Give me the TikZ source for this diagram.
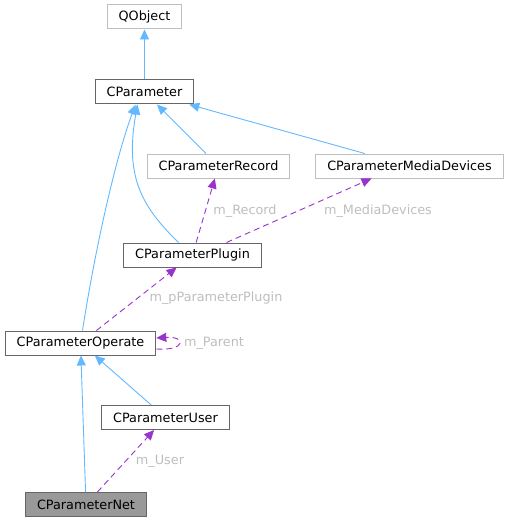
\documentclass[tikz,border=0pt]{standalone}
\usepackage{fontspec}
\setmainfont{DejaVu Sans}
\usetikzlibrary{arrows.meta}
\definecolor{boxdark}{HTML}{666666}
\definecolor{boxlight}{HTML}{BFBFBF}
\definecolor{netfill}{HTML}{999999}
\definecolor{inhblue}{HTML}{63B8FF}
\definecolor{usepurple}{HTML}{9A32CD}
\definecolor{lblgrey}{HTML}{BEBEBE}
\begin{document}
\begin{tikzpicture}[x=1pt,y=-1pt,
  font=\fontsize{12.8}{15}\selectfont,
  cls/.style={draw=boxdark,line width=1pt,fill=white,inner xsep=11.5pt,inner ysep=0pt,minimum height=24pt},
  ext/.style={cls,draw=boxlight},
  self/.style={cls,fill=netfill},
  inh/.style={draw=inhblue,line width=0.9pt,-{Triangle[length=10pt,width=9pt]}},
  dep/.style={draw=usepurple,line width=0.9pt,dash pattern=on 6pt off 4pt,-{Triangle[length=10pt,width=9pt]}},
  lbl/.style={text=lblgrey,inner sep=0pt}]
\useasboundingbox (0,0) rectangle (511,524);
\node[ext] (qobj) at (144.5,17) {QObject};
\node[cls] (par) at (144.5,92) {CParameter};
\node[ext] (rec) at (218.5,166) {CParameterRecord};
\node[ext] (med) at (409.5,166) {CParameterMediaDevices};
\node[cls] (plug) at (192.5,255) {CParameterPlugin};
\node[cls] (op) at (80.5,343) {CParameterOperate};
\node[cls] (usr) at (165.5,417.5) {CParameterUser};
\node[self] (net) at (86,504.5) {CParameterNet};
\draw[inh] (par) -- (qobj);
\draw[inh] (rec) -- (par);
\draw[inh] (med) -- (par);
\draw[inh] ([xshift=-14pt]plug.north) .. controls (140,205) and (125,175) .. ([xshift=-7pt]par.south);
\draw[inh] ([xshift=2pt]op.north) .. controls (95,250) and (115,160) .. ([xshift=-9pt]par.south);
\draw[inh] (usr) -- (op);
\draw[inh] (net) -- (op);
\draw[dep] (plug) -- (rec);
\draw[dep] ([xshift=34pt]plug.north) -- ([xshift=-38pt]med.south);
\draw[dep] (op) -- (plug);
\draw[dep] ([yshift=-6pt]op.east) .. controls +(30pt,-2pt) and +(30pt,2pt) .. ([yshift=5pt]op.east);
\draw[dep] (net) -- (usr);
\node[lbl] (lrec) at (245,211) {m\_Record};
\node[lbl] (lmed) at (378,211) {m\_MediaDevices};
\node[lbl] (lplug) at (216,298) {m\_pParameterPlugin};
\node[lbl] (lpar) at (214,343) {m\_Parent};
\node[lbl] (lusr) at (160,461) {m\_User};
\end{tikzpicture}
\end{document}
